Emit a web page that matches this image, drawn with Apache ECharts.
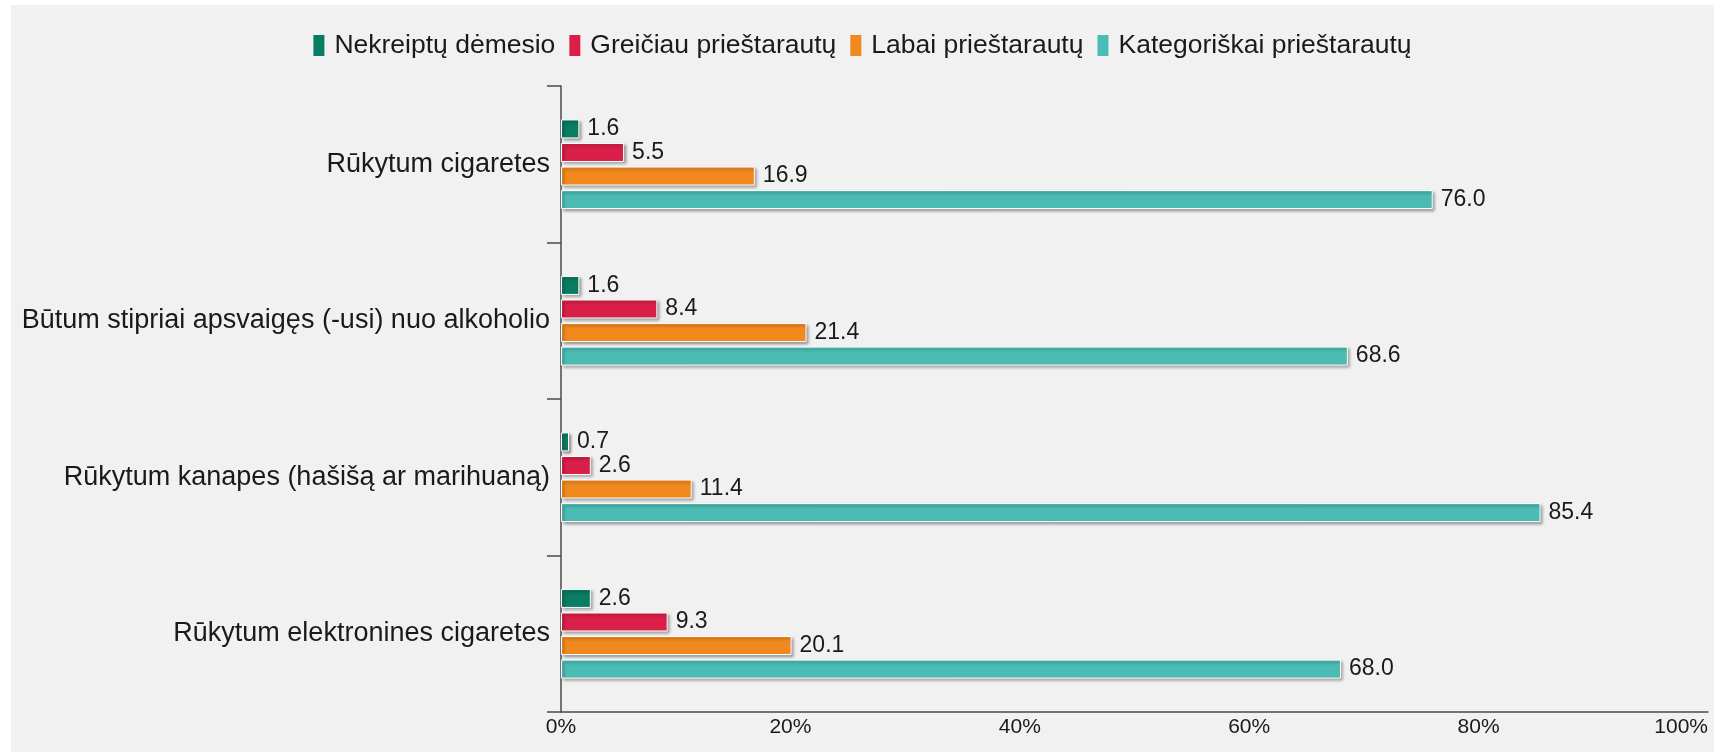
<!DOCTYPE html>
<html>
<head>
<meta charset="utf-8">
<script src="https://cdn.jsdelivr.net/npm/echarts@6/dist/echarts.min.js"></script>
<style>
  html, body { margin: 0; padding: 0; background: #fff; }
  .chart-container {
    position: absolute;
    left: 11px;
    top: 5px;
    width: 1703px;
    height: 747px;
    background: #f1f1f1;
  }
</style>
</head>
<body>
<div class="chart-container"></div>
<script>
const categories = [
  'Rūkytum cigaretes',
  'Būtum stipriai apsvaigęs (-usi) nuo alkoholio',
  'Rūkytum kanapes (hašišą ar marihuaną)',
  'Rūkytum elektronines cigaretes',
];
const seriesNames = ['Nekreiptų dėmesio', 'Greičiau prieštarautų', 'Labai prieštarautų', 'Kategoriškai prieštarautų'];
const nekreiptu = [1.6, 1.6, 0.7, 2.6];
const greiciau = [5.5, 8.4, 2.6, 9.3];
const labai = [16.9, 21.4, 11.4, 20.1];
const kategoriskai = [76.0, 68.6, 85.4, 68.0];
const colors = ['#0a7c64', '#da1f48', '#f2891f', '#4bbcb4'];

const valueSets = [nekreiptu, greiciau, labai, kategoriskai];

const font = '"Liberation Sans", Arial, sans-serif';

const series = valueSets.map((vals, i) => ({
  name: seriesNames[i],
  type: 'bar',
  data: vals,
  barWidth: 19,
  barGap: '24%',
  itemStyle: {
    color: colors[i],
    borderColor: '#ffffff',
    borderWidth: 1,
    shadowColor: 'rgba(0,0,0,0.4)',
    shadowBlur: 3,
    shadowOffsetX: 2,
    shadowOffsetY: 2,
  },
  label: {
    show: true,
    position: 'right',
    distance: 8,
    fontFamily: font,
    fontSize: 23,
    color: '#1a1a1a',
    formatter: (p) => p.value.toFixed(1),
  },
}));

const myChart = echarts.init(document.querySelector('.chart-container'));
myChart.setOption({
  animation: false,
  legend: {
    data: seriesNames,
    top: 22,
    left: 'center',
    itemWidth: 11,
    itemHeight: 21,
    itemGap: 14,
    icon: 'rect',
    itemStyle: { borderWidth: 0, shadowBlur: 0, shadowOffsetX: 0, shadowOffsetY: 0 },
    textStyle: { fontFamily: font, fontSize: 26.5, color: '#1a1a1a', padding: [0, 0, 0, 5] },
  },
  grid: {
    left: 550,
    right: 6,
    top: 81,
    bottom: 40,
    containLabel: false,
  },
  xAxis: {
    type: 'value',
    min: 0,
    max: 100,
    interval: 20,
    axisLine: { show: true, lineStyle: { color: '#4a4a4a', width: 1.5 } },
    axisTick: { show: false },
    splitLine: { show: false },
    axisLabel: {
      formatter: '{value}%',
      fontFamily: font,
      fontSize: 21,
      color: '#1a1a1a',
      margin: 5,
      alignMaxLabel: 'right',
    },
  },
  yAxis: {
    type: 'category',
    data: categories,
    inverse: true,
    axisLine: { show: true, lineStyle: { color: '#4a4a4a', width: 1.5 } },
    axisTick: { show: true, length: 14, lineStyle: { color: '#4a4a4a', width: 1.5 } },
    axisLabel: {
      fontFamily: font,
      fontSize: 27,
      color: '#1a1a1a',
      margin: 11,
    },
  },
  series: series,
});
</script>
</body>
</html>
